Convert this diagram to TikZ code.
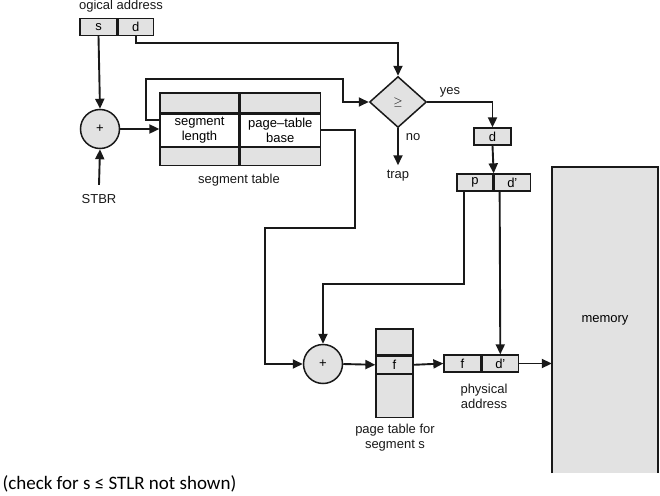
\documentclass[tikz,border=0pt]{standalone}
\usepackage{fontspec}
\setmainfont{Liberation Sans}
\newfontfamily\capfont{Carlito}
\usetikzlibrary{arrows.meta, shapes.geometric, positioning, calc}
\definecolor{CellGray}{RGB}{226, 226, 226}
\definecolor{LineBlack}{RGB}{25, 25, 25}
\tikzset{
    cell/.style={draw=LineBlack, fill=CellGray, line width=1.3pt, inner sep=0pt, minimum height=17pt},
    blank/.style={draw=LineBlack, fill=white, line width=1.3pt, inner sep=0pt, align=center},
    adder/.style={circle, draw=LineBlack, fill=CellGray, line width=1.5pt, minimum size=39pt, inner sep=0pt},
    compare/.style={diamond, draw=LineBlack, fill=CellGray, line width=1.5pt, minimum width=57pt, minimum height=51pt, inner sep=0pt},
    label/.style={text=LineBlack, align=center},
    flow/.style={draw=LineBlack, line width=1.9pt, -{Triangle[length=10pt,width=9pt]}},
    wire/.style={draw=LineBlack, line width=1.9pt}
}

\begin{document}
\begin{tikzpicture}[x=1pt, y=-1pt, font=\fontsize{13}{15}\selectfont]

    \useasboundingbox (0,0) rectangle (660,495);

    %logical address
    \node[label] (lalabel) at (121,6) {ogical address};
    \node[cell, minimum width=37pt] (s) at (98.5,27) {s};
    \node[cell, minimum width=35pt, right=0pt of s] (d) {d};

    %segment table base
    \node[adder] (add1) at (100,129) {+};
    \node[label] (stbr) at (99,199) {STBR};
    \draw[flow] (s.south) -- (add1.north);
    \draw[flow] (stbr.north) ++(0,-6) -- (add1.south);

    %segment table
    \node[cell, minimum width=79pt, minimum height=20pt] (segtopa) at (199.5,103) {};
    \node[cell, minimum width=80pt, minimum height=20pt, right=0pt of segtopa] (segtopb) {};
    \node[blank, minimum width=79pt, minimum height=32pt, below=0pt of segtopa] (seglen) {segment\\length};
    \node[blank, minimum width=80pt, minimum height=32pt, below=0pt of segtopb] (segbase) {page–table\\base};
    \node[cell, minimum width=79pt, minimum height=18pt, below=0pt of seglen] (segbota) {};
    \node[cell, minimum width=80pt, minimum height=18pt, below=0pt of segbase] (segbotb) {};
    \node[label] (seglabel) at (239,180) {segment table};
    \draw[flow] (add1.east) -- (add1.east -| seglen.west);

    %limit check
    \node[compare] (cmp) at (398,102) {$\geq$};
    \node[label] (trap) at (398,176) {trap};
    \node[label] (yes) at (450,92) {yes};
    \node[label] (no) at (413,137) {no};
    \draw[flow] (d.south) -- ++(0,7) -| (cmp.north);
    \draw[flow] ([yshift=-6pt]seglen.north west) -- ++(-13,0) |- (343,79) |- (cmp.west);
    \draw[flow] (cmp.south) -- ++(0,37);

    %offset split
    \node[cell, minimum width=37pt] (dbox) at (492.5,136.5) {d};
    \node[cell, minimum width=36pt] (pcell) at (475,182.5) {p};
    \node[cell, minimum width=36pt, right=0pt of pcell] (dpcell) {d’};
    \draw[flow] (cmp.east) -| (dbox.north);
    \draw[flow] (dbox.south) -- (pcell.north east);

    %page table
    \node[adder] (add2) at (323,364) {+};
    \node[cell, minimum width=37pt, minimum height=26pt] (pttop) at (394.5,342) {};
    \node[cell, minimum width=37pt, below=0pt of pttop] (ptf) {f};
    \node[cell, minimum width=37pt, minimum height=43pt, below=0pt of ptf] (ptbot) {};
    \node[label] (ptlabel) at (395,438) {page table for\\segment s};
    \draw[flow] (segbase.east) -| (355,228) -| (265,364) -- (add2.west);
    \draw[flow] ([xshift=8pt]pcell.south west) -- ++(0,92) -| (add2.north);
    \draw[flow] (add2.east) -- (ptf.west);

    %physical address
    \node[cell, minimum width=37pt] (physf) at (462.5,363.5) {f};
    \node[cell, minimum width=36pt, right=0pt of physf] (physd) {d’};
    \node[label] (physlabel) at (484,396) {physical\\address};
    \draw[flow] (ptf.east) -- (physf.west);
    \draw[flow] ([xshift=6pt]dpcell.south west) -- (physd.north);

    %memory
    \node[fill=CellGray, minimum width=106pt, minimum height=306pt, inner sep=0pt] (mem) at (605,320) {memory};
    \draw[wire] (mem.south west) -- (mem.north west) -- (mem.north east) -- (mem.south east);
    \draw[flow] (physd.east) -- (physd.east -| mem.west);

    %note
    \node[anchor=west, font=\capfont\fontsize{19}{22}\selectfont] (note) at (-1,484) {(check for s ≤ STLR not shown)};

\end{tikzpicture}
\end{document}
